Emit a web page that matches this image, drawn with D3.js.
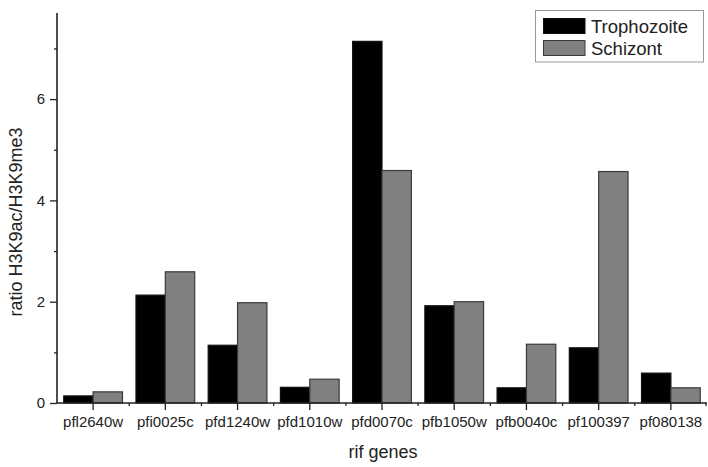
<!DOCTYPE html>
<html><head><meta charset="utf-8">
<script src="https://cdn.jsdelivr.net/npm/d3@7"></script>
<style>body{margin:0;background:#fff}svg{display:block;font-family:"Liberation Sans",Arial,sans-serif}</style>
</head><body><svg id="c" width="708" height="467"></svg>
<script>
const genes = ["pfl2640w","pfi0025c","pfd1240w","pfd1010w","pfd0070c","pfb1050w","pfb0040c","pf100397","pf080138"];
const trophozoite = [0.14,2.13,1.14,0.31,7.14,1.92,0.30,1.09,0.59];
const schizont    = [0.22,2.59,1.98,0.47,4.59,2.00,1.16,4.57,0.30];
const seriesNames = ["Trophozoite","Schizont"];
const seriesColors = ["#000000","#808080"];
const yMajorTicks = [0,2,4,6];
const yMinorTicks = [1,3,5,7];

const svg = d3.select("#c");
const x0 = 57, x1 = 707, yTop = 13, yBase = 403;
const x = d3.scaleBand().domain(genes).range([x0, x1]).paddingInner(0).paddingOuter(0);
const y = d3.scaleLinear().domain([0, 7.7]).range([yBase, yTop]);
const inner = d3.scaleBand().domain(seriesNames).range([0, x.bandwidth()]).paddingOuter(0.23).paddingInner(0);

const series = [trophozoite, schizont];
const g = svg.append("g");
series.forEach((vals, si) => {
  g.selectAll(null).data(genes).join("rect")
    .attr("x", d => x(d) + inner(seriesNames[si]))
    .attr("width", inner.bandwidth())
    .attr("y", (d,i) => y(vals[i]))
    .attr("height", (d,i) => y(0) - y(vals[i]))
    .attr("fill", seriesColors[si])
    .attr("stroke", si === 0 ? "#111" : "#3a3a3a")
    .attr("stroke-width", 1.2);
});

// Y axis
const yAxis = svg.append("g").attr("transform", `translate(${x0},0)`)
  .call(d3.axisLeft(y).tickValues(yMajorTicks).tickSize(7).tickPadding(5).tickFormat(d3.format("d")));
yAxis.select(".domain").remove();
yAxis.selectAll(".tick line").attr("stroke", "#222").attr("stroke-width", 1.3);
yAxis.selectAll("text").attr("font-size", 15).attr("fill", "#222");
const yMinor = svg.append("g").attr("transform", `translate(${x0},0)`)
  .call(d3.axisLeft(y).tickValues(yMinorTicks).tickSize(3).tickFormat(""));
yMinor.select(".domain").remove();
yMinor.selectAll(".tick line").attr("stroke", "#222").attr("stroke-width", 1.3);
svg.append("line").attr("x1", x0).attr("x2", x0).attr("y1", yTop).attr("y2", yBase)
  .attr("stroke", "#222").attr("stroke-width", 1.6);

// X axis
const xAxis = svg.append("g").attr("transform", `translate(0,${yBase})`)
  .call(d3.axisBottom(x).tickSize(7).tickPadding(6));
xAxis.select(".domain").remove();
xAxis.selectAll(".tick line").attr("stroke", "#222").attr("stroke-width", 1.3);
xAxis.selectAll("text").attr("font-size", 15).attr("fill", "#222");
const boundaries = genes.slice(1).map(d => x(d)).concat([x1 - 1]);
svg.append("g").selectAll("line").data(boundaries).join("line")
  .attr("x1", d => d).attr("x2", d => d).attr("y1", yBase).attr("y2", yBase + 3)
  .attr("stroke", "#222").attr("stroke-width", 1.3);
svg.append("line").attr("x1", x0).attr("x2", x1).attr("y1", yBase).attr("y2", yBase)
  .attr("stroke", "#222").attr("stroke-width", 1.6);

// Titles
svg.append("text").attr("x", 383).attr("y", 458).attr("text-anchor", "middle")
  .attr("font-size", 18).attr("fill", "#222").text("rif genes");
svg.append("text").attr("transform", "translate(22,222) rotate(-90)").attr("text-anchor", "middle")
  .attr("font-size", 18).attr("fill", "#222").text("ratio H3K9ac/H3K9me3");

// Legend
const lg = svg.append("g");
lg.append("rect").attr("x", 535.5).attr("y", 10.5).attr("width", 168).attr("height", 51.5)
  .attr("fill", "#fff").attr("stroke", "#999").attr("stroke-width", 1);
seriesNames.forEach((n, i) => {
  lg.append("rect").attr("x", 543.5).attr("y", 18.5 + i * 22).attr("width", 41.5).attr("height", 15)
    .attr("fill", seriesColors[i]).attr("stroke", i === 0 ? "#111" : "#3a3a3a").attr("stroke-width", 1);
  lg.append("text").attr("x", 591).attr("y", 32.5 + i * 22).attr("font-size", 18.5).attr("fill", "#222").text(n);
});
</script></body></html>
